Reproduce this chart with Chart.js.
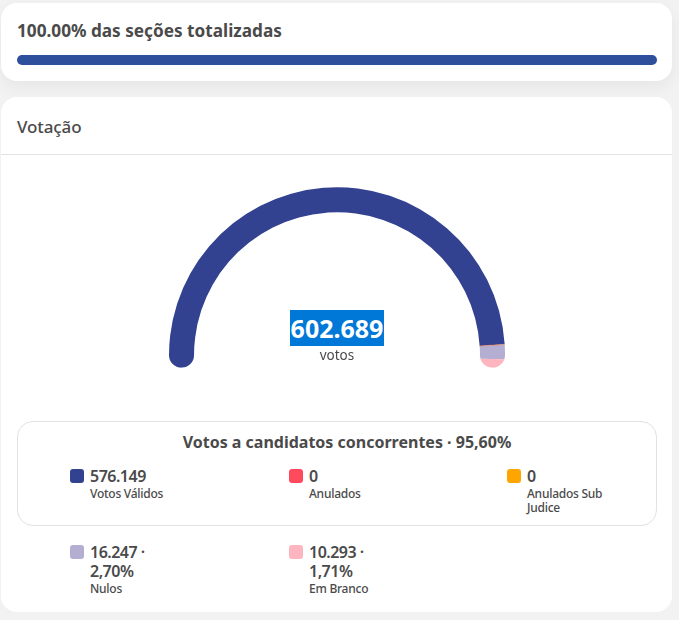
<!DOCTYPE html>
<html lang="pt-BR"><head><meta charset="utf-8">
<script src="https://cdn.jsdelivr.net/npm/chart.js@4"></script>
<style>
html,body{margin:0;padding:0;background:#f2f2f2;width:679px;height:620px;overflow:hidden}
body{font-family:"Noto Sans",sans-serif;color:#4a4a4a;position:relative}
.card{position:absolute;left:1px;width:671px;background:#fff;border-radius:16px}
#c1{top:3px;height:78px;box-shadow:0 6px 16px rgba(0,0,0,.05)}
#c2{top:97px;height:515px}
.abs{position:absolute;white-space:nowrap}
#t1{left:17px;top:19px;font-size:17.2px;font-weight:700;line-height:24px}
#bar{left:17px;top:55px;width:640px;height:10px;background:#2e4f9b;border-radius:5px}
#t2{left:17px;top:115px;font-size:17px;font-weight:500;line-height:24px;letter-spacing:-.1px}
#hr{left:1px;top:154px;width:671px;height:1px;background:#e3e3e3}
canvas{position:absolute;left:167px;top:183px}
#total{left:290px;top:310px;height:36px;line-height:36px;width:94px;text-align:center;font-size:25px;font-weight:700;color:#fff;background:#0078d7}
#sub{left:237px;width:200px;text-align:center;top:346px;font-size:13.5px;line-height:18px}
#box{left:17px;top:421px;width:638px;height:103px;border:1px solid #e2e2e2;border-radius:16px}
#head{left:27px;width:640px;text-align:center;top:431px;font-size:16px;font-weight:700;line-height:22px}
.sw{position:absolute;width:14px;height:14px;border-radius:3px}
.val{position:absolute;font-size:16px;font-weight:600;line-height:19px;width:82px;letter-spacing:-.5px}
.lab{position:absolute;font-size:12px;font-weight:500;line-height:14px;width:86px;letter-spacing:-.25px}
</style></head><body>
<div class="card" id="c1"></div><div class="card" id="c2"></div>
<div class="abs" id="t1"></div><div class="abs" id="bar"></div>
<div class="abs" id="t2"></div><div class="abs" id="hr"></div>
<div class="abs" id="box"></div>
<canvas id="g" width="340" height="190" style="width:340px;height:190px"></canvas>
<div class="abs" id="total"></div><div class="abs" id="sub"></div>
<div class="abs" id="head"></div>
<div id="leg"></div>
<script>
const progressTitle = "100.00% das seções totalizadas";
const cardTitle = "Votação";
const totalVotes = "602.689";
const totalUnit = "votos";
const boxTitle = "Votos a candidatos concorrentes · 95,60%";
const categories = ["Votos Válidos","Anulados","Anulados Sub Judice","Nulos","Em Branco"];
const votes = [576149,0,0,16247,10293];
const valueLabels = ["576.149","0","0","16.247 · 2,70%","10.293 · 1,71%"];
const colors = ["#324291","#ff4a5e","#ffa500","#b4aed2","#ffb5bf"];
const legendSpots = [[70,468],[289,468],[507,468],[70,544],[289,544]];

document.getElementById('t1').textContent = progressTitle;
document.getElementById('t2').textContent = cardTitle;
document.getElementById('total').textContent = totalVotes;
document.getElementById('sub').textContent = totalUnit;
document.getElementById('head').textContent = boxTitle;
const leg = document.getElementById('leg');
categories.forEach((name,i)=>{
  const [x,y] = legendSpots[i];
  const s = document.createElement('div'); s.className='sw';
  s.style.cssText = `left:${x}px;top:${y+1}px;background:${colors[i]}`;
  const v = document.createElement('div'); v.className='val'; v.textContent = valueLabels[i];
  v.style.left = (x+20)+'px'; v.style.top = (y-1)+'px';
  const l = document.createElement('div'); l.className='lab'; l.textContent = name;
  const rows = valueLabels[i].length > 8 ? 2 : 1;
  l.style.left = (x+20)+'px'; l.style.top = (y+19+(rows-1)*19)+'px';
  leg.append(s,v,l);
});

// Round the two ends of the gauge, and show zero-value slices as the hairline they are in the reference.
const roundEnds = {
  id:'roundEnds',
  beforeDatasetsDraw(chart){
    const a = chart.getDatasetMeta(0).data[0];
    const {x,y,innerRadius,outerRadius} = a;
    const mid = (innerRadius+outerRadius)/2, r = (outerRadius-innerRadius)/2;
    const ctx = chart.ctx;
    ctx.save();
    ctx.beginPath();
    ctx.rect(0,0,chart.width,y);
    ctx.moveTo(x-mid+r,y); ctx.arc(x-mid,y,r,0,Math.PI*2);
    ctx.moveTo(x+mid+r,y); ctx.arc(x+mid,y,r,0,Math.PI*2);
    ctx.clip();
  },
  afterDatasetsDraw(chart){
    const ctx = chart.ctx;
    chart.getDatasetMeta(0).data.forEach((a,i)=>{
      if (votes[i] !== 0) return;
      const c = Math.cos(a.startAngle), s = Math.sin(a.startAngle);
      ctx.beginPath();
      ctx.moveTo(a.x+c*a.innerRadius,a.y+s*a.innerRadius);
      ctx.lineTo(a.x+c*a.outerRadius,a.y+s*a.outerRadius);
      ctx.strokeStyle = colors[i]; ctx.globalAlpha = .5; ctx.lineWidth = .6; ctx.stroke();
    });
    ctx.restore();
  }
};

new Chart(document.getElementById('g'),{
  type:'doughnut',
  data:{labels:categories,datasets:[{data:votes,backgroundColor:colors,borderWidth:0}]},
  options:{
    responsive:false,animation:false,
    rotation:-94.6,circumference:189.2,cutout:'85.1%',radius:168,
    layout:{padding:0},
    plugins:{legend:{display:false},tooltip:{enabled:false}}
  },
  plugins:[roundEnds]
});
</script>
</body></html>
